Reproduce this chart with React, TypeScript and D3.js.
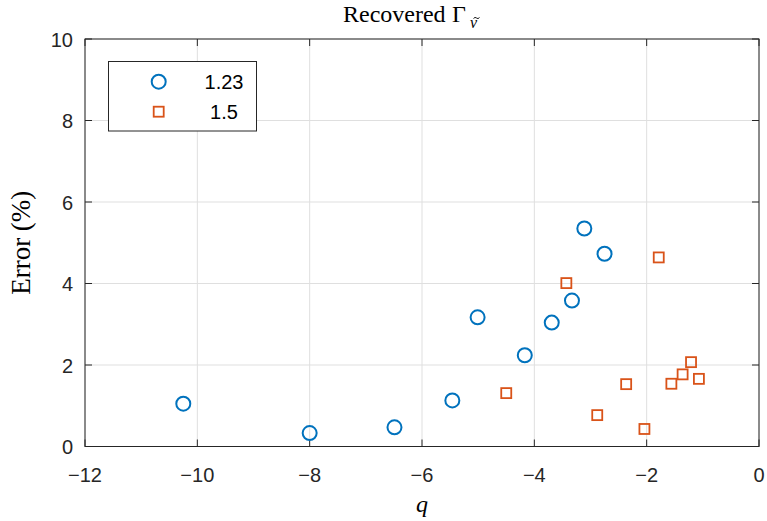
import React from "react";
import * as d3 from "d3";

const blueQ = [-10.25, -8.0, -6.49, -5.46, -5.01, -4.17, -3.69, -3.33, -3.11, -2.75];
const blueErr = [1.05, 0.33, 0.47, 1.13, 3.17, 2.24, 3.04, 3.58, 5.35, 4.73];
const orangeQ = [-4.5, -3.43, -2.88, -2.365, -2.04, -1.785, -1.56, -1.36, -1.21, -1.07];
const orangeErr = [1.31, 4.01, 0.77, 1.53, 0.43, 4.64, 1.54, 1.77, 2.07, 1.66];
const xTicks = [-12, -10, -8, -6, -4, -2, 0];
const yTicks = [0, 2, 4, 6, 8, 10];
const legendLabels = ["1.23", "1.5"];

const W = 767, H = 521;
const L = 85, R = 759, T = 39, B = 446.5;
const axisColor = "#262626";
const blue = "#0072BD";
const orange = "#D95319";

export default function App() {
  const x = d3.scaleLinear().domain([-12, 0]).range([L, R]);
  const y = d3.scaleLinear().domain([0, 10]).range([B, T]);
  const fmt = (v: number) => (v < 0 ? "\u2212" + Math.abs(v) : String(v));
  const tick = 7;
  const sans = "Helvetica, Arial, 'Liberation Sans', sans-serif";
  const serif = "'Liberation Serif', 'Times New Roman', serif";
  const sq = 10;
  return (
    <svg width={W} height={H} style={{ position: "absolute", left: 0, top: 0, background: "#fff" }}>
      <rect x={0} y={0} width={W} height={H} fill="#fff" />
      {/* grid */}
      {xTicks.map((t) => (
        <line key={"gx" + t} x1={x(t)} x2={x(t)} y1={T} y2={B} stroke="#dfdfdf" strokeWidth={1} />
      ))}
      {yTicks.map((t) => (
        <line key={"gy" + t} x1={L} x2={R} y1={y(t)} y2={y(t)} stroke="#dfdfdf" strokeWidth={1} />
      ))}
      {/* axes box */}
      <rect x={L} y={T} width={R - L} height={B - T} fill="none" stroke={axisColor} strokeWidth={1} />
      {xTicks.map((t) => (
        <g key={"tx" + t}>
          <line x1={x(t)} x2={x(t)} y1={B} y2={B - tick} stroke={axisColor} />
          <line x1={x(t)} x2={x(t)} y1={T} y2={T + tick} stroke={axisColor} />
          <text x={x(t)} y={482} textAnchor="middle" fontFamily={sans} fontSize={20} fill={axisColor}>
            {fmt(t)}
          </text>
        </g>
      ))}
      {yTicks.map((t) => (
        <g key={"ty" + t}>
          <line x1={L} x2={L + tick} y1={y(t)} y2={y(t)} stroke={axisColor} />
          <line x1={R} x2={R - tick} y1={y(t)} y2={y(t)} stroke={axisColor} />
          <text x={73} y={y(t) + 7.5} textAnchor="end" fontFamily={sans} fontSize={20} fill={axisColor}>
            {fmt(t)}
          </text>
        </g>
      ))}
      {/* data */}
      {blueQ.map((q, i) => (
        <circle key={"b" + i} cx={x(q)} cy={y(blueErr[i])} r={7} fill="none" stroke={blue} strokeWidth={2} />
      ))}
      {orangeQ.map((q, i) => (
        <rect key={"o" + i} x={x(q) - sq / 2} y={y(orangeErr[i]) - sq / 2} width={sq} height={sq} fill="none" stroke={orange} strokeWidth={1.8} />
      ))}
      {/* title */}
      <text x={343} y={22} fontFamily={serif} fontSize={24} fill="#000">Recovered</text>
      <text x={452} y={22} fontFamily={serif} fontSize={24} fill="#000">Γ</text>
      <text x={470} y={28} fontFamily={serif} fontStyle="italic" fontSize={16} fill="#000">ν</text>
      <path d="M473.5,18.5 q1.5,-2 3,-0.5 t3,-0.5" fill="none" stroke="#000" strokeWidth={0.9} />
      {/* axis labels */}
      <text x={422} y={512} textAnchor="middle" fontFamily={serif} fontStyle="italic" fontSize={24} fill="#000">
        q
      </text>
      <text transform={`translate(30, ${(T + B) / 2}) rotate(-90)`} textAnchor="middle" fontFamily={serif} fontSize={27} fill="#000">
        Error (%)
      </text>
      {/* legend */}
      <rect x={108.5} y={61.5} width={148} height={69.5} fill="#fff" stroke={axisColor} strokeWidth={1} />
      <circle cx={158.7} cy={81.7} r={7} fill="none" stroke={blue} strokeWidth={2} />
      <rect x={158.7 - sq / 2} y={111.7 - sq / 2} width={sq} height={sq} fill="none" stroke={orange} strokeWidth={1.8} />
      <text x={224} y={88.5} textAnchor="middle" fontFamily={sans} fontSize={20} fill="#000">{legendLabels[0]}</text>
      <text x={224} y={118.5} textAnchor="middle" fontFamily={sans} fontSize={20} fill="#000">{legendLabels[1]}</text>
    </svg>
  );
}
